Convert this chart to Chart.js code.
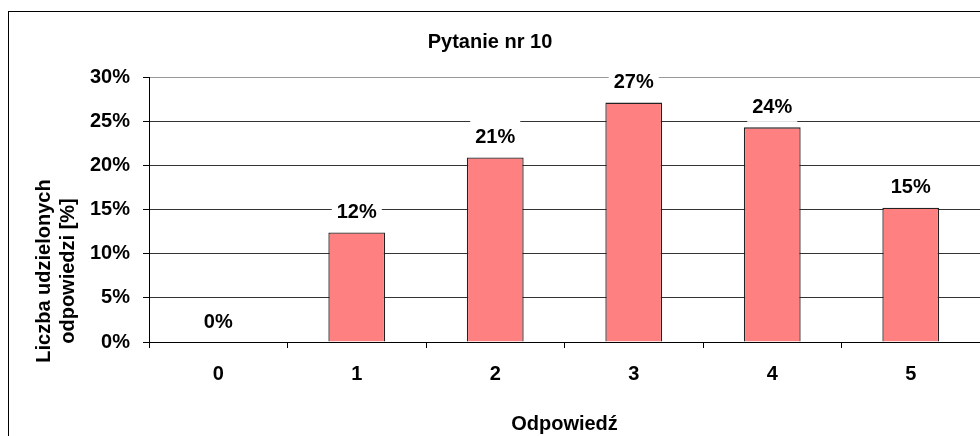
<!DOCTYPE html>
<html>
<head>
<meta charset="utf-8">
<script src="https://cdn.jsdelivr.net/npm/chart.js@4"></script>
<style>
html,body{margin:0;padding:0;background:#fff;}
canvas{display:block;}
</style>
</head>
<body>
<canvas id="c" width="980" height="436"></canvas>
<script>
const categories = ['0', '1', '2', '3', '4', '5'];
const values = [0, 12.4, 20.9, 27.1, 24.3, 15.2];
const yTicks = [0, 5, 10, 15, 20, 25, 30];
const chartTitle = 'Pytanie nr 10';
const xTitle = 'Odpowiedź';
const yTitleLines = ['Liczba udzielonych', 'odpowiedzi [%]'];

const FONT = "'Liberation Sans', Arial, sans-serif";

const frame = {
  id: 'frame',
  beforeDraw(chart) {
    const ctx = chart.ctx;
    ctx.save();
    ctx.fillStyle = '#fff';
    ctx.fillRect(0, 0, chart.width, chart.height);
    ctx.strokeStyle = '#000';
    ctx.lineWidth = 1;
    ctx.strokeRect(8.5, 11.5, 1100, 1000);
    ctx.restore();
  }
};

const yTitle = {
  id: 'yTitle',
  afterDraw(chart) {
    const ctx = chart.ctx;
    ctx.save();
    ctx.font = 'bold 20px ' + FONT;
    ctx.fillStyle = '#000';
    ctx.textAlign = 'center';
    ctx.textBaseline = 'alphabetic';
    const xs = [49.5, 74];
    yTitleLines.forEach((t, i) => {
      ctx.save();
      ctx.translate(xs[i], 271);
      ctx.rotate(-Math.PI / 2);
      ctx.fillText(t, 0, 0);
      ctx.restore();
    });
    ctx.restore();
  }
};

const dataLabels = {
  id: 'dataLabels',
  afterDatasetsDraw(chart) {
    const ctx = chart.ctx;
    const meta = chart.getDatasetMeta(0);
    ctx.save();
    ctx.font = 'bold 20px ' + FONT;
    ctx.textAlign = 'center';
    ctx.textBaseline = 'middle';
    meta.data.forEach((bar, i) => {
      const txt = Math.round(values[i]) + '%';
      const w = ctx.measureText(txt).width;
      const cy = bar.y - 21;
      ctx.fillStyle = '#fff';
      ctx.fillRect(bar.x - w / 2 - 5, cy - 15.5, w + 10, 31);
      ctx.fillStyle = '#000';
      ctx.fillText(txt, bar.x, cy + 1);
    });
    ctx.restore();
  }
};

new Chart(document.getElementById('c'), {
  type: 'bar',
  data: {
    labels: categories,
    datasets: [{
      data: values,
      backgroundColor: '#FF8080',
      borderColor: '#222222',
      borderWidth: 1.3,
      barPercentage: 0.41,
      categoryPercentage: 1.0
    }]
  },
  options: {
    responsive: false,
    animation: false,
    devicePixelRatio: 1,
    layout: { padding: { left: 0, right: 0, top: 0, bottom: 0 } },
    plugins: {
      legend: { display: false },
      tooltip: { enabled: false },
      title: {
        display: true,
        text: chartTitle,
        color: '#000',
        font: { family: FONT, size: 20, weight: 'bold', lineHeight: 1.2 },
        padding: { top: 30, bottom: 23 }
      }
    },
    scales: {
      x: {
        afterFit(scale) { scale.height = 94; },
        grid: {
          display: true,
          drawOnChartArea: false,
          drawTicks: true,
          tickLength: 6,
          tickColor: '#000',
          color: '#000'
        },
        border: { display: true, color: '#000', width: 1 },
        ticks: {
          color: '#000',
          padding: 14,
          font: { family: FONT, size: 20, weight: 'bold' }
        },
        title: {
          display: true,
          text: xTitle,
          color: '#000',
          font: { family: FONT, size: 20, weight: 'bold', lineHeight: 1.2 },
          padding: { top: 0, bottom: 0 }
        }
      },
      y: {
        min: 0,
        max: 30,
        afterFit(scale) { scale.width = 149; },
        afterBuildTicks(scale) { scale.ticks = yTicks.map(v => ({ value: v })); },
        grid: {
          color: (c) => (c.tick && c.tick.value === 30) ? '#999999' : '#333333',
          tickColor: '#000',
          tickLength: 6,
          lineWidth: 1
        },
        border: { display: true, color: '#000', width: 1 },
        ticks: {
          color: '#000',
          padding: 13,
          font: { family: FONT, size: 20, weight: 'bold' },
          callback: (v) => v + '%'
        }
      }
    }
  },
  plugins: [frame, yTitle, dataLabels]
});
</script>
</body>
</html>
